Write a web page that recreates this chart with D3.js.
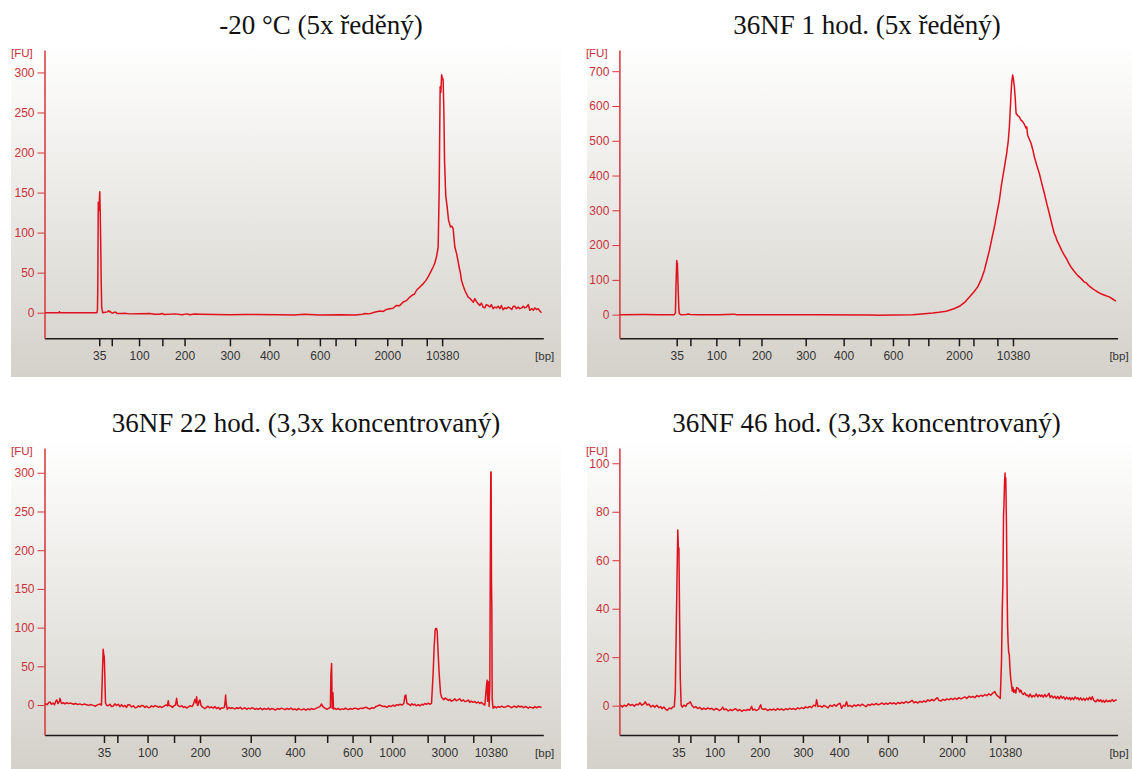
<!DOCTYPE html>
<html>
<head>
<meta charset="utf-8">
<script src="https://cdn.jsdelivr.net/npm/d3@7"></script>
<style>
  body { margin: 0; background: #fff; }
  svg { display: block; }
  .title { font-family: "Liberation Serif", "Times New Roman", serif; font-size: 27px; fill: #111; }
  .ax text { font-family: "Liberation Sans", Tahoma, sans-serif; font-size: 12px; }
  .unit { font-family: "Liberation Sans", Tahoma, sans-serif; font-size: 11.5px; }
</style>
</head>
<body>
<svg id="chart" width="1132" height="769"></svg>
<script>
// ladder fragments (bp) and migration time window (s)
const ladderSizes = [35, 50, 100, 150, 200, 300, 400, 500, 600, 700, 1000, 2000, 3000, 7000, 10380];
const timeDomain = [20, 119.8];

const titles = [
  "-20 °C (5x ředěný)",
  "36NF 1 hod. (5x ředěný)",
  "36NF 22 hod. (3,3x koncentrovaný)",
  "36NF 46 hod. (3,3x koncentrovaný)"
];

// migration time of every ladder fragment in each run (null = not found)
const ladder1 = [30.96, 33.46, 38.92, 43.58, 48.02, 57.1, 65.0, 70.58, 75.1, 78.24, 82.16, 88.58, 91.46, 96.48, 99.56];
const ladder2 = [31.48, 34.22, 39.42, 43.98, 48.46, 57.32, 64.92, 70.32, 74.8, 77.92, 81.88, 88.02, 90.92, 95.72, 98.84];
const ladder3 = [31.9, 34.58, 40.62, 45.92, 51.12, 61.26, 70.1, 76.56, 81.64, 85.14, 89.56, 96.66, 100.0, 105.78, 109.3];
const ladder4 = [31.84, 34.22, 39.06, 43.76, 48.1, 56.76, 64.04, 69.68, 73.8, null, 80.94, 86.58, 89.46, 94.3, 97.26];

const labelsA = [35, 100, 200, 300, 400, 600, 2000, 10380];
const labelsB = [35, 100, 200, 300, 400, 600, 1000, 3000, 10380];

const fuTicks1 = [0, 50, 100, 150, 200, 250, 300];
const fuTicks2 = [0, 100, 200, 300, 400, 500, 600, 700];
const fuTicks3 = [0, 50, 100, 150, 200, 250, 300];
const fuTicks4 = [0, 20, 40, 60, 80, 100];

const fuRange1 = [-32, 328];
const fuRange2 = [-68, 761];
const fuRange3 = [-38.7, 332];
const fuRange4 = [-12.1, 106.3];

// traces: [time s, FU]
const trace1 = [[20.1,0],[22.9,0],[23.0,1.2],[23.1,0],[30.5,0],[30.6,4],[30.66,32],[30.76,138],[30.88,128],[31.06,151],[31.16,120],[31.24,90],[31.34,40],[31.44,7],[31.64,0],[32.1,0.5],[32.6,1],[32.8,2.5],[33.0,1],[33.1,1.8],[33.4,0],[33.7,-0.5],[34.0,0.6],[34.3,0.5],[34.5,-1],[35.5,-1],[36.0,-0.8],[37,-1.5],[39,-1.2],[41.1,-1],[42,-2],[43.1,-2],[43.5,-1],[44,-2.2],[46.1,-1.5],[47.5,-2.5],[48.5,-1.5],[49.1,-2.5],[50,-1.8],[51.1,-2],[57.1,-2.5],[60,-2.3],[67.1,-2.5],[70,-2.8],[72,-2],[75.1,-3],[79.1,-2.5],[82.1,-3],[83.7,-2],[84.1,-1],[85,-1.5],[86,0.5],[87.1,2],[87.8,1.5],[88.4,4],[89.1,5],[89.7,5.5],[90.44,9],[91,8.5],[91.76,13.3],[92.4,15],[93.1,19.5],[93.6,22],[94.0,23],[94.44,28],[95.1,32],[95.76,36],[96.3,40],[96.76,44.6],[97.2,50],[97.76,57],[98.1,62],[98.44,70],[98.76,82],[98.96,149],[99.16,282],[99.3,275],[99.46,297],[99.56,294],[99.76,291],[99.9,253],[100.04,190],[100.2,160],[100.3,145],[100.56,132],[100.84,115.6],[101.24,107],[101.5,108],[101.76,105],[102.1,82],[102.44,74],[102.7,66],[102.96,57],[103.2,50],[103.44,40],[103.8,33],[104.1,28],[104.4,24],[104.76,19.5],[105.1,18],[105.44,15.4],[105.8,13],[106.1,17.5],[106.4,14],[106.76,11.3],[107.1,9],[107.4,12],[107.76,7],[108.1,6],[108.4,10],[108.76,9],[109.1,7],[109.4,10],[109.76,5],[110.1,7],[110.4,6],[110.76,8],[111.1,5],[111.4,9],[111.76,3.7],[112.1,6],[112.4,5],[112.8,7],[113.1,6],[113.5,4],[113.8,8],[114.1,8],[114.4,5],[114.8,7],[115.1,5],[115.5,6],[115.8,8],[116.1,6],[116.44,7],[116.8,10],[117.1,3],[117.5,5],[117.8,3],[118.1,6],[118.44,4],[118.8,5],[119.1,2],[119.44,0]];

const trace2 = [[20.1,0],[25,0.3],[28,-0.2],[30.98,0],[31.22,5],[31.34,84],[31.48,156],[31.55,150],[31.62,147],[31.78,70],[31.9,20],[32.0,3],[32.3,0],[33.4,0.5],[33.8,2],[34.2,0.5],[36,0],[40,0],[43,1.5],[43.5,0],[50,0],[60,-0.5],[70,-1],[72.12,-2],[75,-1],[78.78,0],[80.5,2],[82.78,5],[84,7],[85.46,10],[87,17],[88.12,24],[89.2,36],[90.12,51],[91,65],[91.78,80],[92.5,102],[93.12,128],[93.6,155],[94.12,185],[94.6,218],[95.12,252],[95.6,290],[96.12,329],[96.5,370],[96.92,406],[97.58,464],[97.9,500],[98.12,540],[98.3,590],[98.46,637],[98.6,670],[98.78,689],[98.95,675],[99.12,656],[99.3,620],[99.46,579],[99.8,572],[100.12,569],[100.4,560],[100.78,555],[101.1,548],[101.46,536],[101.6,540],[101.78,516],[102.1,505],[102.46,493],[102.8,475],[103.12,454],[103.6,430],[104.12,406],[104.6,378],[105.12,349],[105.6,320],[106.12,291],[106.6,262],[107.12,233],[107.4,225],[107.6,215],[108.12,200],[108.6,185],[109.12,171],[109.6,160],[110.0,148],[110.46,137],[111.1,125],[111.78,113],[112.4,105],[113.12,94],[113.5,92],[113.9,85],[114.78,75],[115.5,68],[116.46,60],[117.2,56],[118.12,51],[118.8,45],[119.46,39]];

const trace3 = [[20.1,2],[20.5,0.5],[20.9,3.5],[21.1,4],[21.4,1],[21.7,2.5],[22.0,0.5],[22.2,4],[22.44,6.5],[22.7,2],[23.0,5],[23.1,8.6],[23.3,4],[23.44,2],[23.8,3],[24.1,1.5],[24.44,3],[24.8,1.8],[25.1,2.5],[25.44,2],[25.8,1],[26.2,2],[26.6,0.8],[27.1,1.5],[27.5,0.2],[27.9,1.2],[28.44,0.5],[28.8,-0.5],[29.2,0.6],[29.76,-0.4],[30.2,-1.5],[30.6,0.2],[31.1,1.3],[31.4,0],[31.58,40],[31.74,72],[31.84,66],[31.96,62],[32.06,40],[32.2,3],[32.4,0],[32.7,-1],[33.1,1],[33.4,-2],[33.76,-1.3],[34.1,1.5],[34.4,-0.5],[34.76,1],[35.1,-2],[35.4,0.5],[35.76,-2.2],[36.1,-0.5],[36.4,-3],[36.7,0.5],[37.1,0],[37.4,-2.5],[37.8,-1],[38.1,-3.5],[38.44,-3],[38.8,-1],[39.1,-2.5],[39.4,-0.5],[39.76,-1],[40.1,-3],[40.4,-1.5],[40.8,-3.5],[41.1,-3],[41.4,-1],[41.8,-2.5],[42.1,-0.8],[42.44,-1.5],[42.8,-3],[43.1,-1.8],[43.4,-3.2],[43.76,-2],[44.0,-1],[44.3,0],[44.6,-1],[44.76,5.6],[44.9,-0.5],[45.24,-1],[45.6,-3],[45.9,-1],[46.2,0],[46.44,8.6],[46.6,0.5],[46.9,-1.5],[47.1,-2],[47.5,-1],[47.8,-3],[48.1,-2],[48.44,-3.9],[48.8,-2.5],[49.1,-1],[49.5,-2],[49.8,1],[50.1,7.3],[50.3,3],[50.44,10.7],[50.6,-0.5],[50.76,0],[50.9,5],[51.1,6.5],[51.3,0],[51.5,-2],[51.76,-3],[52.1,-4.5],[52.4,-3],[52.7,-1.5],[53.0,-3.5],[53.4,-2.5],[53.76,-4],[54.1,-2],[54.4,-4.5],[54.8,-3],[55.1,-5.6],[55.4,-3.5],[55.7,-4],[56.0,-3],[56.15,5],[56.24,12.9],[56.35,2],[56.56,-5.6],[56.9,-3],[57.2,-4.5],[57.5,-3.5],[57.76,-4],[58.1,-5],[58.5,-3.5],[58.8,-4.5],[59.2,-3],[59.5,-5],[59.76,-4.7],[60.1,-3.5],[60.5,-5.5],[60.8,-4],[61.2,-5],[61.5,-3.5],[61.76,-4],[62.1,-5.5],[62.5,-4.5],[62.8,-5.5],[63.2,-4],[63.6,-6],[64.0,-4.5],[64.44,-5.6],[64.8,-4],[65.1,-6],[65.5,-4.5],[65.8,-5],[66.2,-6.5],[66.6,-4.5],[67.0,-5.5],[67.4,-4],[67.76,-5],[68.1,-6],[68.5,-4.5],[68.9,-5.5],[69.3,-4],[69.7,-6],[70.1,-5],[70.5,-6.5],[70.8,-4.5],[71.1,-5.6],[71.5,-6],[71.9,-5],[72.3,-6.5],[72.7,-5],[73.1,-6],[73.4,-4.5],[73.76,-5.6],[74.1,-5],[74.4,-4],[74.76,-3],[75.1,-2],[75.44,1.3],[75.7,-2],[76.1,-4],[76.5,-5.5],[76.9,-4],[77.2,-3],[77.3,38],[77.44,53.5],[77.56,-4],[77.7,16],[77.84,-5],[78.1,-4.5],[78.44,-5.6],[78.8,-4.5],[79.1,-6],[79.5,-5],[79.9,-5.5],[80.2,-4],[80.44,-5],[80.8,-6],[81.2,-4.5],[81.6,-5.5],[82.0,-4],[82.44,-4.5],[82.8,-5.5],[83.2,-4],[83.6,-4.5],[84.0,-3.5],[84.44,-3],[84.8,-4.5],[85.1,-5],[85.5,-3.5],[85.9,-4],[86.3,-2],[86.7,-1],[87.1,0],[87.4,-1],[87.8,-2],[88.1,-1.5],[88.5,-3],[88.9,-1],[89.3,-2],[89.76,0],[90.1,-1.5],[90.5,0.5],[90.8,-0.5],[91.1,1],[91.5,0],[91.9,2],[92.1,11.6],[92.3,13],[92.45,5],[92.56,2],[92.9,1],[93.2,-0.5],[93.5,1.5],[93.76,0],[94.1,1],[94.4,-1],[94.8,0.5],[95.1,-1],[95.5,1],[95.8,0],[96.1,2],[96.44,1],[96.8,2.5],[97.1,1],[97.44,2.2],[97.76,41],[97.96,75],[98.16,97],[98.3,99],[98.44,99],[98.57,95],[98.7,75],[98.96,41],[99.24,15],[99.45,10],[99.64,8.6],[99.9,7],[100.2,9],[100.44,8],[100.8,6],[101.1,7.5],[101.4,5],[101.76,6],[102.1,8],[102.4,5.5],[102.8,7],[103.1,8],[103.4,5],[103.8,6.5],[104.1,4.5],[104.44,5],[104.8,6.5],[105.1,3.5],[105.4,5],[105.76,3.5],[106.1,4.5],[106.4,2.5],[106.8,4],[107.1,2],[107.4,3.5],[107.8,1],[108.1,0],[108.3,15],[108.45,26],[108.56,32],[108.66,5],[108.76,22],[108.86,30],[108.96,-2],[109.1,25],[109.24,248],[109.3,301],[109.36,301],[109.43,160],[109.5,127],[109.57,10],[109.64,2],[109.76,-4],[110.1,-2],[110.4,-3.5],[110.8,-2],[111.1,-3],[111.5,-1.5],[111.9,-3],[112.3,-2.5],[112.7,-1],[113.1,-2],[113.5,-3.5],[113.9,-1.5],[114.2,-2],[114.44,-3],[114.8,-1],[115.1,-2.5],[115.5,-1.5],[115.9,-3.5],[116.2,-2],[116.44,-2.5],[116.8,-4],[117.1,-2.5],[117.4,-3],[117.76,-4],[118.1,-2],[118.5,-3.5],[118.9,-2],[119.2,-3],[119.44,-2.2]];

const trace4 = [[20.2,0.3],[20.6,-0.5],[21.0,0.2],[21.4,-0.3],[21.8,0.8],[22.2,0.1],[22.6,0.5],[23.0,-0.2],[23.4,0.6],[23.8,0.4],[24.1,1.2],[24.5,0.2],[24.9,0.7],[25.2,1.6],[25.5,0.3],[25.9,0.6],[26.3,-0.5],[26.7,0.1],[27.1,-0.6],[27.5,0.2],[27.9,-0.8],[28.3,-0.4],[28.5,-1.2],[28.9,-0.6],[29.3,-1.5],[29.6,-1.9],[30.0,-1.0],[30.4,-1.3],[30.7,-0.5],[31.0,-0.4],[31.2,5.8],[31.42,36],[31.56,55],[31.7,72.5],[31.8,66],[31.84,63.5],[31.92,65],[32.06,36],[32.2,11.3],[32.36,0.3],[32.6,-0.6],[32.9,0.2],[33.3,-0.3],[33.6,0.8],[33.9,1.0],[34.2,1.6],[34.5,0.2],[34.9,-0.8],[35.3,-0.4],[35.7,-1.2],[36.1,-0.7],[36.5,-1.6],[36.9,-1.0],[37.3,-1.5],[37.7,-0.9],[38.1,-1.4],[38.5,-1.1],[38.9,-1.8],[39.3,-1.2],[39.7,-1.5],[40.0,-2.0],[40.4,-1.5],[40.7,-0.6],[41.0,-1.7],[41.4,-1.4],[41.8,-2.2],[42.2,-1.6],[42.6,-2.0],[43.0,-1.5],[43.3,-1.3],[43.7,-2.1],[44.1,-1.6],[44.5,-2.3],[44.9,-1.8],[45.3,-2.0],[45.7,-1.6],[46.1,-1.9],[46.5,-0.3],[46.7,-1.8],[47.1,-1.5],[47.5,-2.0],[47.9,-1.4],[48.3,0.4],[48.5,-1.2],[48.9,-1.6],[49.3,-1.3],[49.7,-2.0],[50.1,-1.5],[50.5,-1.8],[50.9,-1.4],[51.3,-1.9],[51.7,-1.2],[52.1,-1.7],[52.5,-1.4],[52.9,-1.8],[53.3,-1.3],[53.7,-1.6],[54.1,-1.1],[54.5,-1.5],[54.9,-1.2],[55.3,-1.6],[55.7,-0.9],[56.1,-1.3],[56.5,-0.8],[56.9,-1.2],[57.3,-0.5],[57.7,-0.9],[58.1,-0.3],[58.5,-0.8],[58.9,0.2],[59.3,-0.2],[59.5,2.4],[59.8,-0.4],[60.2,-0.1],[60.6,-0.6],[61.0,0.1],[61.4,-0.4],[61.8,-0.9],[62.2,0.2],[62.6,-0.3],[63.0,0.4],[63.4,-0.2],[63.8,0.6],[64.2,1.0],[64.5,-1.1],[64.9,0.2],[65.2,-0.2],[65.5,1.6],[65.8,-0.3],[66.2,0.1],[66.6,-0.5],[67.0,0.3],[67.4,-0.2],[67.8,0.4],[68.2,-0.1],[68.6,0.6],[69.0,0.1],[69.4,-0.4],[69.8,0.5],[70.2,0.1],[70.6,0.7],[71.0,0.3],[71.4,0.9],[71.8,0.4],[72.2,0.6],[72.6,1.1],[73.0,0.5],[73.4,1.0],[73.8,0.6],[74.2,1.2],[74.6,0.8],[75.0,1.1],[75.4,0.6],[75.8,1.3],[76.2,0.9],[76.6,1.4],[77.0,1.0],[77.4,1.7],[77.8,1.2],[78.2,1.5],[78.6,2.2],[79.0,1.2],[79.4,1.6],[79.8,1.1],[80.2,1.8],[80.6,1.4],[81.0,2.0],[81.4,1.5],[81.8,2.4],[82.2,1.9],[82.6,2.6],[83.0,2.0],[83.4,2.8],[83.7,3.3],[84.0,2.2],[84.4,1.9],[84.8,2.6],[85.2,2.2],[85.6,2.8],[86.0,2.4],[86.4,3.0],[86.8,2.5],[87.2,3.1],[87.6,2.6],[88.0,3.3],[88.4,2.8],[88.8,3.2],[89.2,3.6],[89.6,3.0],[90.0,3.9],[90.4,3.4],[90.8,3.8],[91.2,3.3],[91.6,4.2],[92.0,3.7],[92.4,4.3],[92.8,3.9],[93.2,4.6],[93.6,4.1],[94.0,4.9],[94.4,4.3],[94.8,5.2],[95.2,5.8],[95.5,4.6],[95.8,3.9],[96.0,3.6],[96.3,3.0],[96.54,18],[96.7,40],[96.82,50],[96.95,78],[97.04,83],[97.15,92],[97.26,96],[97.33,90],[97.4,94],[97.54,74.5],[97.65,50],[97.76,33],[97.87,26],[97.98,22],[98.1,21],[98.28,14],[98.4,11],[98.56,8.5],[98.7,6],[98.84,7.5],[99.0,5.5],[99.22,6.5],[99.4,5.2],[99.6,7.5],[99.94,7],[100.2,5.6],[100.4,6.4],[100.66,5.1],[100.9,4.6],[101.2,5.3],[101.5,4.2],[101.74,4.4],[102.0,3.6],[102.3,4.8],[102.6,3.5],[102.9,4.2],[103.18,3.7],[103.5,4.9],[103.8,3.6],[104.1,4.5],[104.4,3.8],[104.62,4.4],[104.9,3.5],[105.2,4.6],[105.5,3.7],[105.8,4.3],[106.06,5.1],[106.3,3.4],[106.6,4.1],[106.9,3.2],[107.2,3.9],[107.5,2.9],[107.8,3.8],[108.1,2.8],[108.4,4.0],[108.7,3.1],[108.96,3.7],[109.3,2.6],[109.6,3.5],[109.9,2.7],[110.2,3.4],[110.4,2.4],[110.7,3.3],[111.0,2.5],[111.3,3.6],[111.6,2.8],[111.84,3.3],[112.1,2.4],[112.4,3.2],[112.7,2.3],[113.0,3.0],[113.28,2.2],[113.6,3.1],[113.9,2.4],[114.2,3.5],[114.5,2.5],[114.74,3.7],[115.0,2.3],[115.2,1.8],[115.46,1.6],[115.8,2.6],[116.1,1.7],[116.4,2.4],[116.7,1.5],[116.92,2.2],[117.2,1.4],[117.5,2.3],[117.8,1.6],[118.1,2.1],[118.36,1.6],[118.7,2.5],[119.0,1.8],[119.3,2.2],[119.64,2.4]];

// panel frames on the page
const frames = [
  { left: 44.5, right: 543.3, top: 50, bottom: 338.3, bg: [11, 40, 550, 337], titleX: 321, titleY: 34 },
  { left: 619.4, right: 1117.6, top: 50, bottom: 338.3, bg: [587, 40, 545, 337], titleX: 867, titleY: 34 },
  { left: 44.5, right: 543.3, top: 448, bottom: 735, bg: [11, 437, 550, 332], titleX: 306, titleY: 432 },
  { left: 619.4, right: 1117.6, top: 448, bottom: 735, bg: [587, 437, 545, 332], titleX: 866.5, titleY: 432 }
];

const runs = [
  { title: titles[0], ladder: ladder1, labels: labelsA, fuTicks: fuTicks1, fu: fuRange1, trace: trace1 },
  { title: titles[1], ladder: ladder2, labels: labelsA, fuTicks: fuTicks2, fu: fuRange2, trace: trace2 },
  { title: titles[2], ladder: ladder3, labels: labelsB, fuTicks: fuTicks3, fu: fuRange3, trace: trace3 },
  { title: titles[3], ladder: ladder4, labels: labelsA, fuTicks: fuTicks4, fu: fuRange4, trace: trace4 }
];

const red = "#e0101c";
const axisRed = "#d6343b";
const labelRed = "#c8323a";

const svg = d3.select("#chart");

const grad = svg.append("defs").append("linearGradient")
    .attr("id", "panelBg")
    .attr("x1", 0).attr("y1", 0).attr("x2", 0).attr("y2", 1);
grad.append("stop").attr("offset", "0%").attr("stop-color", "#ffffff");
grad.append("stop").attr("offset", "100%").attr("stop-color", "#d4d1ca");

runs.forEach((run, i) => {
    const f = frames[i];
    const x = d3.scaleLinear().domain(timeDomain).range([f.left, f.right]);
    const y = d3.scaleLinear().domain(run.fu).range([f.bottom, f.top]);

    svg.append("rect")
        .attr("x", f.bg[0]).attr("y", f.bg[1])
        .attr("width", f.bg[2]).attr("height", f.bg[3])
        .attr("fill", "url(#panelBg)");

    svg.append("text")
        .attr("class", "title")
        .attr("x", f.titleX).attr("y", f.titleY)
        .attr("text-anchor", "middle")
        .text(run.title);

    // ladder ticks, only some carry a label
    const tickTimes = [];
    const tickLabel = new Map();
    run.ladder.forEach((t, k) => {
        if (t == null) return;
        tickTimes.push(t);
        tickLabel.set(t, run.labels.includes(ladderSizes[k]) ? String(ladderSizes[k]) : "");
    });

    const gx = svg.append("g")
        .attr("class", "ax")
        .attr("transform", `translate(0,${f.bottom})`)
        .call(d3.axisBottom(x)
            .tickValues(tickTimes)
            .tickFormat(t => tickLabel.get(t))
            .tickSize(8).tickPadding(5).tickSizeOuter(0));
    gx.select(".domain").attr("stroke", "#1a1a1a").attr("stroke-width", 1.5);
    gx.selectAll(".tick line").attr("stroke", "#1a1a1a").attr("stroke-width", 1.5);
    gx.selectAll(".tick text").attr("fill", "#333");

    const gy = svg.append("g")
        .attr("class", "ax")
        .attr("transform", `translate(${f.left},0)`)
        .call(d3.axisLeft(y)
            .tickValues(run.fuTicks)
            .tickSize(7).tickPadding(3).tickSizeOuter(0));
    gy.select(".domain").attr("stroke", axisRed).attr("stroke-width", 1.5);
    gy.selectAll(".tick line").attr("stroke", axisRed);
    gy.selectAll(".tick text").attr("fill", labelRed);

    svg.append("text")
        .attr("class", "unit")
        .attr("x", f.left - 33.5).attr("y", f.top + 6.5)
        .attr("fill", labelRed)
        .text("[FU]");

    svg.append("text")
        .attr("class", "unit")
        .attr("x", f.right + 11).attr("y", f.bottom + 21.5)
        .attr("text-anchor", "end")
        .attr("fill", "#333")
        .text("[bp]");

    svg.append("path")
        .datum(run.trace)
        .attr("fill", "none")
        .attr("stroke", red)
        .attr("stroke-width", 1.5)
        .attr("stroke-linejoin", "round")
        .attr("d", d3.line().x(d => x(d[0])).y(d => y(d[1])));
});
</script>
</body>
</html>
